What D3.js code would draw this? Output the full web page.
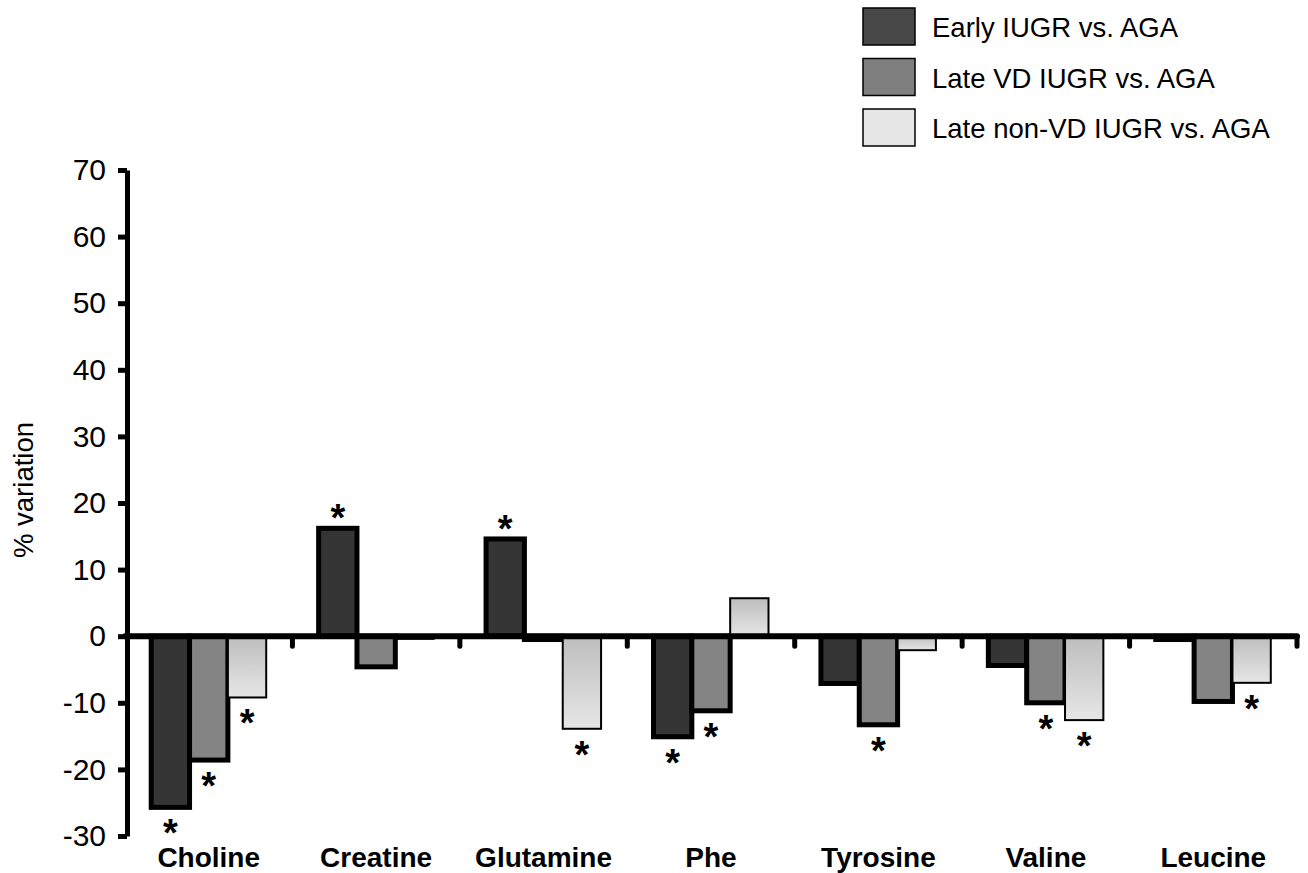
<!DOCTYPE html>
<html>
<head>
<meta charset="utf-8">
<script src="https://cdn.jsdelivr.net/npm/d3@7"></script>
<style>
  body { margin: 0; background: #fff; }
  svg { display: block; font-family: Arial, "Liberation Sans", sans-serif; }
</style>
</head>
<body>
<svg width="1308" height="873"></svg>
<script>
// data
var categories = ["Choline", "Creatine", "Glutamine", "Phe", "Tyrosine", "Valine", "Leucine"];
var seriesNames = ["Early IUGR vs. AGA", "Late VD IUGR vs. AGA", "Late non-VD IUGR vs. AGA"];
var early     = [-25.7, 16.2, 14.6, -15.1, -7.1, -4.4, -0.5];
var lateVD    = [-18.6, -4.6, -0.5, -11.2, -13.3, -10.0, -9.8];
var lateNonVD = [-9.2, -0.4, -13.9, 5.7, -2.1, -12.6, -7.0];
// significance stars (1 = *)
var sigEarly     = [1, 1, 1, 1, 0, 0, 0];
var sigLateVD    = [1, 0, 0, 1, 1, 1, 0];
var sigLateNonVD = [1, 0, 1, 0, 0, 1, 1];
var yTicks = [-30, -20, -10, 0, 10, 20, 30, 40, 50, 60, 70];

var values = [early, lateVD, lateNonVD];
var sigs = [sigEarly, sigLateVD, sigLateNonVD];
var fills = ["#353535", "#848484", "url(#lightGrad)"];
var legendFills = ["#474747", "#7f7f7f", "#e6e6e6"];
var strokeW = [5, 5, 2];

var svg = d3.select("svg");

var defs = svg.append("defs");
var grad = defs.append("linearGradient").attr("id", "lightGrad")
    .attr("x1", 0).attr("y1", 0).attr("x2", 0).attr("y2", 1);
grad.append("stop").attr("offset", "0%").attr("stop-color", "#bdbdbd");
grad.append("stop").attr("offset", "100%").attr("stop-color", "#e6e6e6");

var x = d3.scaleBand().domain(categories).range([125, 1297]).padding(0);
var groupW = 115;
var xs = d3.scaleBand().domain(d3.range(3)).range([0, groupW]).padding(0);
var y = d3.scaleLinear().domain([-30, 70]).range([836, 170]);

// bars
var bars = [];
categories.forEach(function(c, ci) {
  values.forEach(function(vals, si) {
    bars.push({cat: c, s: si, v: vals[ci], sig: sigs[si][ci]});
  });
});

function barX(d) { return x(d.cat) + (x.bandwidth() - groupW) / 2 + xs(d.s); }

svg.append("g").selectAll("rect").data(bars).enter().append("rect")
  .attr("x", barX)
  .attr("width", xs.bandwidth())
  .attr("y", function(d) { return y(Math.max(0, d.v)); })
  .attr("height", function(d) { return Math.abs(y(d.v) - y(0)); })
  .attr("fill", function(d) { return fills[d.s]; })
  .attr("stroke", "#000")
  .attr("stroke-width", function(d) { return strokeW[d.s]; });

// stars
svg.append("g").selectAll("text").data(bars.filter(function(d) { return d.sig; })).enter().append("text")
  .attr("x", function(d) { return barX(d) + xs.bandwidth() / 2; })
  .attr("y", function(d) { return d.v < 0 ? y(d.v) + 39 : y(d.v) + 3; })
  .attr("text-anchor", "middle")
  .attr("font-size", 38)
  .attr("font-weight", "bold")
  .text("*");

// x axis line with ticks at group boundaries
var xAxis = svg.append("g").attr("stroke", "#000").attr("stroke-linecap", "round");
xAxis.append("line")
  .attr("x1", 125).attr("x2", 1297)
  .attr("y1", y(0)).attr("y2", y(0))
  .attr("stroke-width", 6);
xAxis.selectAll(".tk").data(categories).enter().append("line")
  .attr("class", "tk")
  .attr("x1", function(d) { return x(d) + x.bandwidth(); })
  .attr("x2", function(d) { return x(d) + x.bandwidth(); })
  .attr("y1", y(0)).attr("y2", y(0) + 10)
  .attr("stroke-width", 5);

// category labels
svg.append("g").selectAll("text").data(categories).enter().append("text")
  .attr("x", function(d) { return x(d) + x.bandwidth() / 2; })
  .attr("y", 867)
  .attr("text-anchor", "middle")
  .attr("font-size", 28)
  .attr("font-weight", "bold")
  .text(function(d) { return d; });

// y axis
var yAxis = svg.append("g").attr("transform", "translate(127,0)")
  .call(d3.axisLeft(y).tickValues(yTicks).tickSize(9).tickSizeOuter(0).tickPadding(12)
    .tickFormat(function(d) { return String(d); }));
yAxis.select(".domain").attr("stroke-width", 5);
yAxis.selectAll(".tick line").attr("stroke-width", 5);
yAxis.selectAll(".tick text")
  .attr("font-size", 30)
  .attr("font-family", "Arial, 'Liberation Sans', sans-serif")
  .attr("fill", "#000");

svg.append("text")
  .attr("transform", "translate(33,490) rotate(-90)")
  .attr("text-anchor", "middle")
  .attr("font-size", 27.5)
  .text("% variation");

// legend
var legend = svg.append("g").selectAll("g").data(seriesNames).enter().append("g")
  .attr("transform", function(d, i) { return "translate(863," + (8 + i * 50.5) + ")"; });
legend.append("rect")
  .attr("width", 52).attr("height", 37)
  .attr("fill", function(d, i) { return legendFills[i]; })
  .attr("stroke", "#000").attr("stroke-width", 1.5);
legend.append("text")
  .attr("x", 69).attr("y", 29)
  .attr("font-size", 27.5)
  .text(function(d) { return d; });
</script>
</body>
</html>
